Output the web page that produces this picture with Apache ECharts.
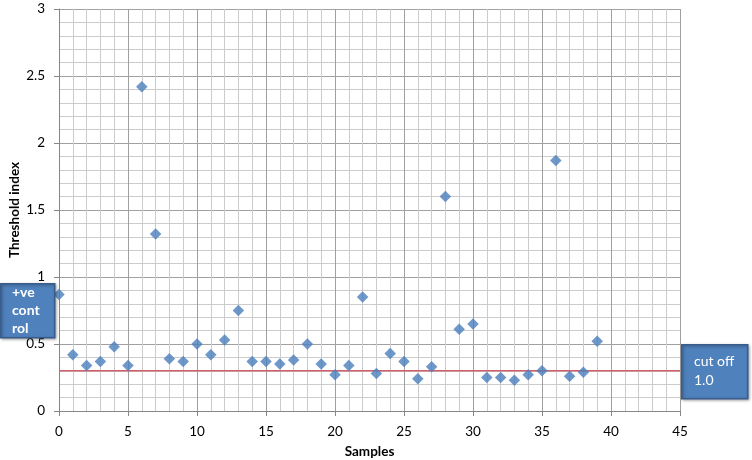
<!DOCTYPE html>
<html>
<head>
<meta charset="utf-8">
<script src="https://cdn.jsdelivr.net/npm/echarts@6/dist/echarts.min.js"></script>
<style>
html,body{margin:0;padding:0;background:#fff;}
#c{width:752px;height:460px;}
</style>
</head>
<body>
<div id="c"></div>
<script>
// Data
const samples = [0,1,2,3,4,5,6,7,8,9,10,11,12,13,14,15,16,17,18,19,20,21,22,23,24,25,26,27,28,29,30,31,32,33,34,35,36,37,38,39];
const thresholdIndex = [0.87,0.42,0.34,0.37,0.48,0.34,2.42,1.32,0.39,0.37,0.50,0.42,0.53,0.75,0.37,0.37,0.35,0.38,0.50,0.35,0.27,0.34,0.85,0.28,0.43,0.37,0.24,0.33,1.60,0.61,0.65,0.25,0.25,0.23,0.27,0.30,1.87,0.26,0.29,0.52];
const cutOff = 0.3;
const xTicks = [0,45,5];   // min, max, interval
const yTicks = [0,3,0.5];  // min, max, interval
const xTitle = 'Samples';
const yTitle = 'Threshold index';
const boxLeftText = '+ve\ncont\nrol';
const boxRightText = 'cut off\n1.0';

const FONT = 'Lato, "Open Sans", sans-serif';
const chart = echarts.init(document.getElementById('c'), null, {renderer:'canvas'});
const pts = samples.map((s,i)=>[s, thresholdIndex[i]]);
const cutLine = [[xTicks[0], cutOff], [xTicks[1], cutOff]];

const axisCommon = {
  axisLine:{show:true, onZero:false, lineStyle:{color:'#868686', width:1}},
  axisTick:{show:true, length:5, lineStyle:{color:'#868686'}},
  splitLine:{show:true, lineStyle:{color:'#a0a0a0', width:1}},
  minorTick:{show:false, splitNumber:5},
  minorSplitLine:{show:true, lineStyle:{color:'#cccccc', width:1}},
  axisLabel:{color:'#000', fontFamily:FONT, fontSize:13.5}
};

chart.setOption({
  animation:false,
  grid:{left:59, right:72, top:9, bottom:49, containLabel:false, outerBoundsMode:'none'},
  xAxis:Object.assign({}, axisCommon, {
    type:'value', min:xTicks[0], max:xTicks[1], interval:xTicks[2],
    minorTick:{show:false, splitNumber:5},
    axisLabel:Object.assign({}, axisCommon.axisLabel, {margin:14}),
    name:xTitle, nameLocation:'middle', nameGap:41, nameMoveOverlap:false,
    nameTextStyle:{fontFamily:FONT, fontSize:13.5, fontWeight:'bold', color:'#000', verticalAlign:'middle'}
  }),
  yAxis:Object.assign({}, axisCommon, {
    type:'value', min:yTicks[0], max:yTicks[1], interval:yTicks[2],
    minorTick:{show:false, splitNumber:5},
    axisLabel:Object.assign({}, axisCommon.axisLabel, {margin:14}),
    name:yTitle, nameLocation:'middle', nameGap:44, nameRotate:90, nameMoveOverlap:false,
    nameTextStyle:{fontFamily:FONT, fontSize:13.5, fontWeight:'bold', color:'#000', verticalAlign:'middle'}
  }),
  series:[{
    type:'line',
    data:cutLine,
    symbol:'none',
    silent:true,
    lineStyle:{color:'#d0606b', width:1.5},
    z:4
  },{
    type:'scatter',
    data:pts,
    symbol:'diamond',
    symbolSize:11.5,
    itemStyle:{color:'#4a7ebb'},
    z:5
  }],
  graphic:[
    {type:'rect', left:0, top:283, shape:{width:54, height:54},
     style:{fill:'#4f81bd', stroke:'#385d8a', lineWidth:1.5, shadowBlur:3, shadowColor:'rgba(0,0,0,0.35)', shadowOffsetX:1, shadowOffsetY:1}, z:10},
    {type:'text', left:12, top:283, z:11,
     style:{text:boxLeftText, fill:'#fff', font:'bold 14px ' + FONT, lineHeight:18}},
    {type:'rect', left:681, top:344, shape:{width:66, height:54},
     style:{fill:'#4f81bd', stroke:'#385d8a', lineWidth:1.5, shadowBlur:3, shadowColor:'rgba(0,0,0,0.35)', shadowOffsetX:1, shadowOffsetY:1}, z:10},
    {type:'text', left:694, top:352, z:11,
     style:{text:boxRightText, fill:'#fff', font:'14px ' + FONT, lineHeight:19}}
  ]
});
</script>
</body>
</html>
